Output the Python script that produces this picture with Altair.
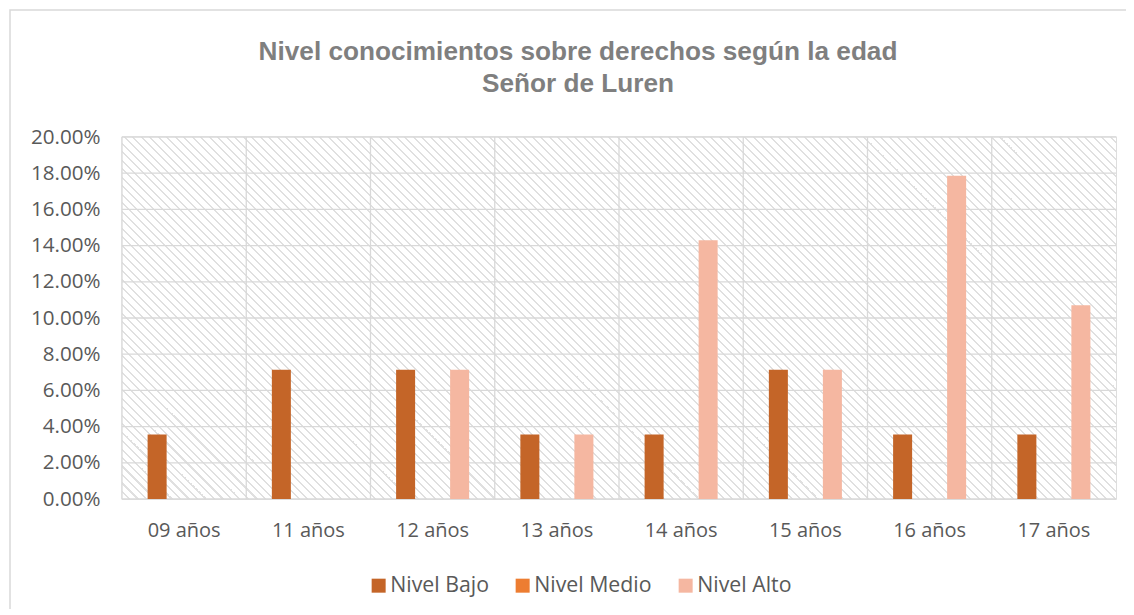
import altair as alt
import pandas as pd

# ---- data ----
ages = ["09 años", "11 años", "12 años", "13 años", "14 años", "15 años", "16 años", "17 años"]
series = ["Nivel Bajo", "Nivel Medio", "Nivel Alto"]
nivel_bajo = [3.57, 7.14, 7.14, 3.57, 3.57, 7.14, 3.57, 3.57]
nivel_medio = [0, 0, 0, 0, 0, 0, 0, 0]
nivel_alto = [0, 0, 7.14, 3.57, 14.29, 7.14, 17.86, 10.71]
y_ticks = [0.0, 0.02, 0.04, 0.06, 0.08, 0.10, 0.12, 0.14, 0.16, 0.18, 0.20]
title_lines = ["Nivel conocimientos sobre derechos según la edad", "Señor de Luren"]
colors = ["#C46528", "#ED7D31", "#F5B7A1"]

rows = []
for s, vals in zip(series, [nivel_bajo, nivel_medio, nivel_alto]):
    for a, v in zip(ages, vals):
        rows.append({"edad": a, "nivel": s, "valor": v / 100.0})
df = pd.DataFrame(rows)

W, H = 994, 362

# ---- hatched plot background (wide downward diagonal) as a striped gradient ----
period = 8.5
total = W + H
n = total / period
white, gray = "#FFFFFF", "#E0E0E0"
stops = []
i = 0
while i < n:
    o0 = i / n
    o1 = min(1.0, (i + 0.75) / n)
    o2 = min(1.0, (i + 1) / n)
    stops += [
        alt.GradientStop(offset=o0, color=white),
        alt.GradientStop(offset=o1, color=white),
        alt.GradientStop(offset=o1, color=gray),
        alt.GradientStop(offset=o2, color=gray),
    ]
    i += 1
k = total / (W * W + H * H)
grad = alt.LinearGradient(gradient="linear", x1=0, y1=1, x2=k * W, y2=1 - k * H, stops=stops)

label_font = "Open Sans"
label_color = "#595959"
grid_color = "#D9D9D9"

one = pd.DataFrame({"f": [0]})

x_scale = alt.Scale(paddingInner=0, paddingOuter=0)
x_axis = alt.Axis(
    title=None, labelAngle=0, grid=False, domain=False, ticks=False,
    bandPosition=0.5,
    labelFont=label_font, labelFontSize=20, labelColor=label_color,
    labelPadding=21,
)
y_scale = alt.Scale(domain=[0, 0.2], nice=False)
y_axis = alt.Axis(
    title=None, format=".2%", values=y_ticks, grid=False,
    domain=False, ticks=False, labelOverlap=False,
    labelFont=label_font, labelFontSize=20.6, labelColor=label_color,
    labelPadding=22,
)

hatch = alt.Chart(one).mark_rect(fill=grad, strokeWidth=0).encode(
    x=alt.value(0), x2=alt.value(W), y=alt.value(0), y2=alt.value(H)
)

hgrid = alt.Chart(pd.DataFrame({"valor": y_ticks})).mark_rule(
    color=grid_color, strokeWidth=1.3
).encode(y=alt.Y("valor:Q", scale=y_scale, axis=y_axis))

vgrid = alt.Chart(pd.DataFrame({"edad": ages})).mark_rule(
    color=grid_color, strokeWidth=1.3
).encode(x=alt.X("edad:N", sort=ages, bandPosition=0, scale=x_scale, axis=x_axis))

bars = alt.Chart(df).mark_bar().encode(
    x=alt.X("edad:N", sort=ages, scale=x_scale, axis=x_axis),
    y=alt.Y("valor:Q", scale=y_scale, axis=y_axis),
    xOffset=alt.XOffset(
        "nivel:N", sort=series,
        scale=alt.Scale(paddingInner=0.296, paddingOuter=0.948),
    ),
    color=alt.Color(
        "nivel:N", sort=series,
        scale=alt.Scale(domain=series, range=colors),
        legend=alt.Legend(
            title=None, orient="none", legendX=246, legendY=438,
            direction="horizontal", symbolType="square", symbolSize=196,
            symbolStrokeWidth=0, labelFont=label_font, labelFontSize=21.3,
            labelColor=label_color, labelOffset=1, columnPadding=23, padding=0,
        ),
    ),
)

frame = alt.Chart(one).mark_rect(
    filled=False, stroke="#D9D9D9", strokeWidth=1.5
).encode(
    x=alt.value(-112), x2=alt.value(1040), y=alt.value(-127), y2=alt.value(620)
)

title = alt.Chart(one).mark_text(
    text=title_lines,
    font="Liberation Sans",
    fontSize=26.2,
    fontWeight="bold",
    color="#7F7F7F",
    align="center",
    baseline="top",
    lineHeight=32,
).encode(x=alt.value(W / 2 - 41), y=alt.value(-98))

chart = alt.layer(hatch, hgrid, vgrid, frame, bars, title).properties(
    width=W,
    height=H,
    autosize="none",
    padding={"left": 114, "top": 129, "right": 10, "bottom": 110},
).configure_view(stroke=grid_color, strokeWidth=1.3)

chart.save("out.html", embed_options={"renderer": "svg", "actions": False})
